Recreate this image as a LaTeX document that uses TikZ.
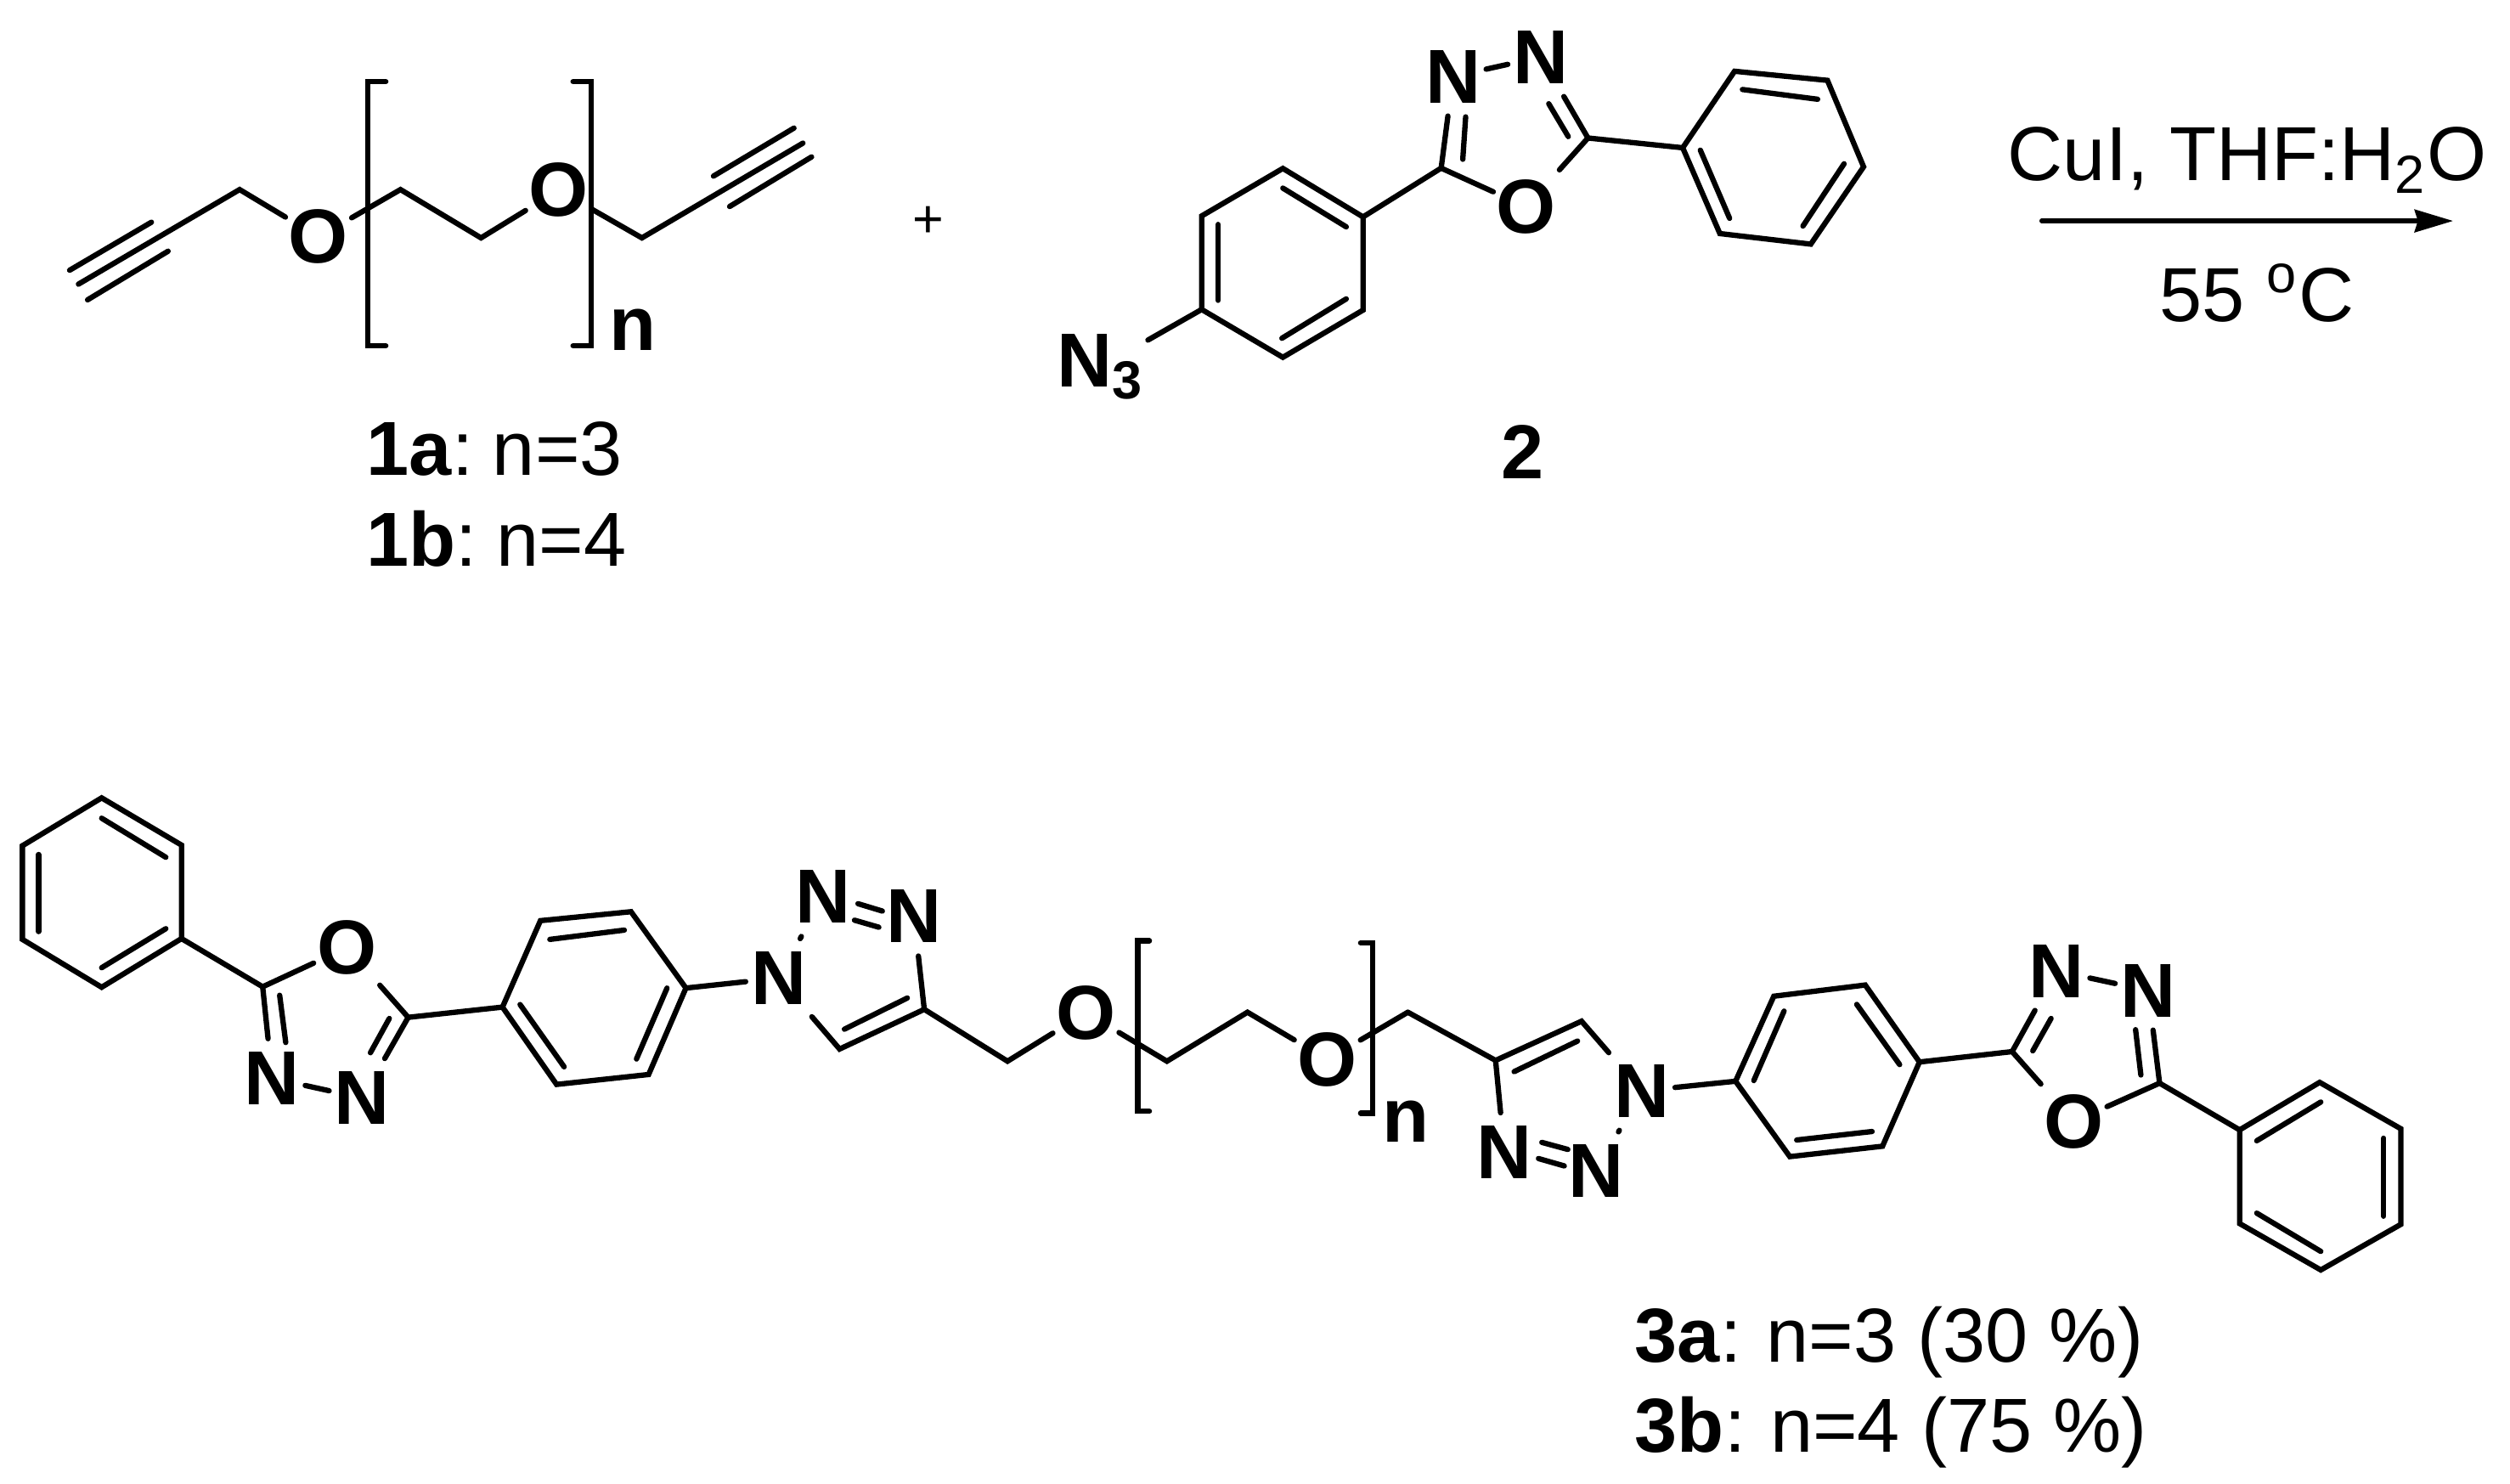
\documentclass[tikz,border=0pt]{standalone}
\usepackage{fontspec}
\setmainfont{Liberation Sans}
\usepackage{tikz}
\usetikzlibrary{arrows.meta}
\tikzset{bond/.style = {line width = 0.95pt, line cap = round}}
\tikzset{atom/.style = {rectangle, inner sep = 0, minimum width = 0.38cm, minimum height = 0.46cm,
                        font = \fontsize{13.6}{15}\selectfont\bfseries}}
\tikzset{txt/.style = {inner sep = 0, font = \fontsize{13.6}{15}\selectfont}}
\tikzset{rxnarrow/.style = {line width = 0.85pt, -{Stealth[length = 0.24cm, width = 0.14cm, inset = 0.02cm]}}}

\begin{document}
\begin{tikzpicture}[x = 0.01cm, y = -0.01cm, bond]
      \useasboundingbox (0, 0) rectangle (1568, 926.5);

      % dialkyne 1
      \coordinate (ac1) at (49, 177.5);
      \coordinate (ac2) at (149.7, 118.4);
      \node [atom] (ao1) at (199, 148) {O};
      \coordinate (ac3) at (250.2, 118.4);
      \coordinate (ac4) at (300.5, 148.6);
      \node [atom] (ao2) at (349, 118.8) {O};
      \coordinate (ac5) at (401, 148.6);
      \coordinate (ac6) at (501.6, 89.4);
      \draw (ac1) -- (ac2) -- (ao1) -- (ac3) -- (ac4) -- (ao2) -- (ac5) -- (ac6);
      \draw (43.5, 168.8) -- (94.6, 138.8);
      \draw (54.7, 187.3) -- (105, 156.9);
      \draw (445.7, 110) -- (496, 80);
      \draw (455.8, 129) -- (507, 98);
      \draw (241, 51) -- (229.7, 51) -- (229.7, 216) -- (241, 216);
      \draw (358, 51) -- (369.4, 51) -- (369.4, 216) -- (358, 216);
      \node [txt, font = \fontsize{13.6}{15}\selectfont\bfseries, anchor = base] (an) at (395.5, 218.9) {n};
      \node [txt, anchor = base west] (lab1a) at (227.2, 296.7) {\textbf{1a}:\hspace{-1.6pt} n=3};
      \node [txt, anchor = base west] (lab1b) at (227.2, 353.5) {\textbf{1b}:\hspace{-1.6pt} n=4};
      \node [txt, font = \fontsize{9.5}{11}\selectfont] (plus) at (579.8, 138.4) {+};

      % azide 2
      \coordinate (bc1) at (851.5, 135.5);
      \coordinate (bc2) at (801.4, 105.2);
      \coordinate (bc3) at (750.7, 134.9);
      \coordinate (bc4) at (750.7, 193.3);
      \coordinate (bc5) at (801.4, 223.2);
      \coordinate (bc6) at (851.5, 193.7);
      \draw (bc1) -- (bc2) -- (bc3) -- (bc4) -- (bc5) -- (bc6) -- cycle;
      \draw (801.4, 117.5) -- (841, 141.7);
      \draw (761, 140.2) -- (761, 187.6);
      \draw (841, 186.7) -- (800.8, 211.3);
      \node [atom, minimum width = 0.44cm] (bn3) at (688, 229) {N\textsubscript{3}};
      \draw (bc4) -- (bn3);
      \coordinate (bc7) at (900.3, 105);
      \coordinate (bc8) at (992, 86.2);
      \node [atom] (bn1) at (907.7, 47.8) {N};
      \node [atom] (bn2) at (962.6, 35.6) {N};
      \node [atom] (bo) at (953.5, 129.2) {O};
      \draw (bc1) -- (bc7) -- (bn1);
      \draw (bn1) -- (bn2);
      \draw (bn2) -- (bc8) -- (bo) -- (bc7);
      \draw (913.8, 99.5) -- (915.6, 73);
      \draw (979.7, 85.3) -- (967.5, 64.8);
      \coordinate (bc9) at (1051.2, 92.3);
      \coordinate (bc10) at (1083.6, 44.5);
      \coordinate (bc11) at (1141.6, 50.2);
      \coordinate (bc12) at (1164.2, 104.2);
      \coordinate (bc13) at (1131.2, 152.5);
      \coordinate (bc14) at (1074.4, 145.9);
      \draw (bc8) -- (bc9);
      \draw (bc9) -- (bc10) -- (bc11) -- (bc12) -- (bc13) -- (bc14) -- cycle;
      \draw (1088.5, 55.9) -- (1135.5, 62);
      \draw (1152, 102.3) -- (1126.3, 141.2);
      \draw (1062.2, 93.8) -- (1080.5, 136.4);
      \node [txt, font = \fontsize{13.6}{15}\selectfont\bfseries, anchor = base] (lab2) at (951, 299) {2};

      % reaction arrow
      \coordinate (arrstart) at (1275.5, 138);
      \coordinate (arrend) at (1532.5, 138);
      \draw [rxnarrow] (arrstart) -- (arrend);
      \node [txt, anchor = base] (reagent) at (1404, 113) {CuI, THF:H\textsubscript{2}O};
      \node [txt, anchor = base] (temp) at (1410, 201) {55 \textsuperscript{o}C};

      % product 3, left arm
      \coordinate (cc1) at (63.5, 498.4);
      \coordinate (cc2) at (113.4, 527.9);
      \coordinate (cc3) at (113.4, 586.3);
      \coordinate (cc4) at (63.5, 616.7);
      \coordinate (cc5) at (14, 586.8);
      \coordinate (cc6) at (14, 528.3);
      \draw (cc1) -- (cc2) -- (cc3) -- (cc4) -- (cc5) -- (cc6) -- cycle;
      \draw (63.5, 511.1) -- (103.6, 535.5);
      \draw (103.6, 580.1) -- (63.5, 604.5);
      \draw (24.1, 533.8) -- (24.1, 581.9);
      \coordinate (cc7) at (164.1, 616.4);
      \coordinate (cc8) at (255, 635.5);
      \node [atom] (co1) at (216.6, 592) {O};
      \node [atom] (cn1) at (170, 673.5) {N};
      \node [atom] (cn2) at (226.3, 685.9) {N};
      \draw (cc3) -- (cc7) -- (co1) -- (cc8) -- (cn2);
      \draw (cc7) -- (cn1);
      \draw (cn1) -- (cn2);
      \draw (174.7, 621.7) -- (178.5, 651.2);
      \draw (243.2, 636.2) -- (231.4, 657.6);
      \coordinate (cc9) at (313.9, 629.1);
      \coordinate (cc10) at (337.6, 575.1);
      \coordinate (cc11) at (394.2, 569.5);
      \coordinate (cc12) at (428.5, 617.2);
      \coordinate (cc13) at (405.2, 671.2);
      \coordinate (cc14) at (347.7, 677.4);
      \draw (cc8) -- (cc9);
      \draw (cc9) -- (cc10) -- (cc11) -- (cc12) -- (cc13) -- (cc14) -- cycle;
      \draw (343.5, 586.8) -- (390, 581);
      \draw (416.7, 617.2) -- (397.6, 661.5);
      \draw (324.9, 627.5) -- (352.4, 666.4);
      \node [atom] (cn3) at (486.5, 611) {N};
      \node [atom] (cn4) at (514, 560.3) {N};
      \node [atom] (cn5) at (571, 572.5) {N};
      \coordinate (cc15) at (577.4, 630.5);
      \coordinate (cc16) at (524.5, 655.3);
      \draw (cc12) -- (cn3);
      \draw (cn3) -- (cn4);
      \draw (cn5) -- (cc15) -- (cc16) -- (cn3);
      \draw (536, 564.5) -- (551.2, 569.1);
      \draw (533.8, 574.8) -- (549, 579.2);
      \draw (566.8, 623.4) -- (527.5, 642.9);

      % product 3, glycol bridge
      \coordinate (dc1) at (629.4, 662.9);
      \node [atom] (do1) at (678.4, 632.6) {O};
      \coordinate (dc2) at (729, 662.9);
      \coordinate (dc3) at (779.3, 632.3);
      \node [atom] (do2) at (829.2, 661.8) {O};
      \coordinate (dc4) at (879.5, 632.3);
      \draw (cc15) -- (dc1) -- (do1) -- (dc2) -- (dc3) -- (do2) -- (dc4);
      \draw (718, 587.7) -- (710.7, 587.7) -- (710.7, 694.2) -- (718, 694.2);
      \draw (850, 589) -- (857.5, 589) -- (857.5, 695.4) -- (850, 695.4);
      \node [txt, font = \fontsize{13.6}{15}\selectfont\bfseries, anchor = base] (dn) at (878, 713.6) {n};

      % product 3, right arm
      \coordinate (ec1) at (934.3, 662.4);
      \coordinate (ec2) at (988, 637.9);
      \node [atom] (en1) at (1025.7, 681.4) {N};
      \node [atom] (en2) at (997, 731.7) {N};
      \node [atom] (en3) at (939.8, 719.8) {N};
      \draw (dc4) -- (ec1) -- (ec2) -- (en1);
      \draw (ec1) -- (en3);
      \draw (en1) -- (en2);
      \draw (945.9, 669.4) -- (985.5, 650.3);
      \draw (963.2, 713.6) -- (979.4, 718);
      \draw (961.1, 723.7) -- (977.2, 728.3);
      \coordinate (ec3) at (1084.2, 675.4);
      \coordinate (ec4) at (1108.1, 622.3);
      \coordinate (ec5) at (1165.2, 615.3);
      \coordinate (ec6) at (1199.1, 663.4);
      \coordinate (ec7) at (1176, 716);
      \coordinate (ec8) at (1118.1, 722.5);
      \draw (en1) -- (ec3);
      \draw (ec3) -- (ec4) -- (ec5) -- (ec6) -- (ec7) -- (ec8) -- cycle;
      \draw (1114.5, 631.6) -- (1095.6, 675);
      \draw (1159.9, 627.4) -- (1186.7, 665);
      \draw (1169.5, 706.8) -- (1122.4, 712.1);
      \coordinate (ec9) at (1257, 656.9);
      \coordinate (ec10) at (1349.1, 676.6);
      \node [atom] (en4) at (1284.9, 606.5) {N};
      \node [atom] (en5) at (1342, 618.8) {N};
      \node [atom] (eo) at (1295.6, 700.5) {O};
      \draw (ec6) -- (ec9) -- (en4);
      \draw (en4) -- (en5);
      \draw (en5) -- (ec10) -- (eo) -- (ec9);
      \draw (1269.9, 656.4) -- (1281.3, 636.2);
      \draw (1337.4, 671.5) -- (1334.1, 643.2);
      \coordinate (ec11) at (1399.1, 705.8);
      \coordinate (ec12) at (1449.1, 676.1);
      \coordinate (ec13) at (1499.8, 705.1);
      \coordinate (ec14) at (1499.8, 764.8);
      \coordinate (ec15) at (1449.8, 793.3);
      \coordinate (ec16) at (1399.1, 764.3);
      \draw (ec10) -- (ec11);
      \draw (ec11) -- (ec12) -- (ec13) -- (ec14) -- (ec15) -- (ec16) -- cycle;
      \draw (1409.8, 712.6) -- (1449.8, 688.4);
      \draw (1489.1, 711) -- (1489.1, 759.7);
      \draw (1409.8, 757.8) -- (1449.8, 781.7);
      \node [txt, anchor = base west] (lab3a) at (1019.7, 851) {\textbf{3a}:\hspace{-0.65pt} n=3 (30 \%)};
      \node [txt, anchor = base west] (lab3b) at (1019.7, 907) {\textbf{3b}:\hspace{-0.65pt} n=4 (75 \%)};
    \end{tikzpicture}
\end{document}
